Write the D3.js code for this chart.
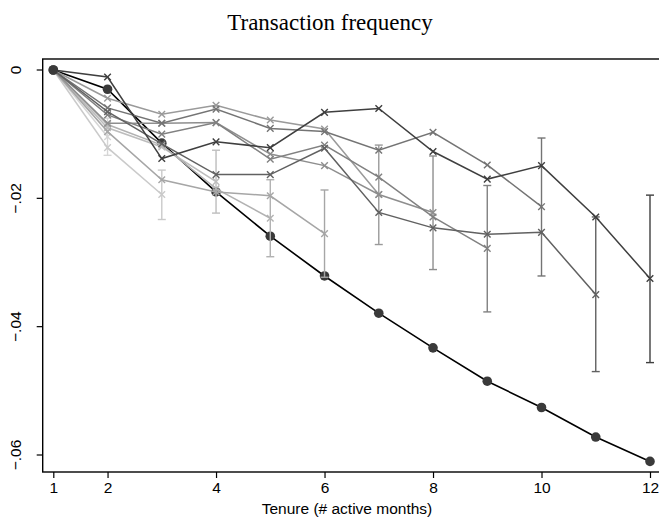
<!DOCTYPE html>
<html>
<head>
<meta charset="utf-8">
<script src="https://cdn.jsdelivr.net/npm/d3@7"></script>
<style>
  body { margin: 0; background: #fff; }
  svg { display: block; }
</style>
</head>
<body>
<svg width="659" height="521"></svg>
<script>
// months on the x axis
const months = [1, 2, 3, 4, 5, 6, 7, 8, 9, 10, 11, 12];
const xTicks = [1, 2, 4, 6, 8, 10, 12];
const yTicks = [0, -0.02, -0.04, -0.06];

// black line with circles
const overall = [0, -0.0030, -0.0114, -0.0190, -0.0259, -0.0321, -0.0379, -0.0433, -0.0485, -0.0526, -0.0572, -0.0610];

// gray cohorts, each one ends (with a CI) at its last month
const s2 = [0, -0.0104];
const s3 = [0, -0.0121, -0.0194];
const s4 = [0, -0.0090, -0.0120, -0.0174];
const s5 = [0, -0.0085, -0.0117, -0.0185, -0.0231];
const s6 = [0, -0.0096, -0.0171, -0.0190, -0.0196, -0.0255];
const s7 = [0, -0.0044, -0.0069, -0.0055, -0.0078, -0.0092, -0.0194];
const s8 = [0, -0.0083, -0.0083, -0.0082, -0.0131, -0.0149, -0.0194, -0.0222];
const s9 = [0, -0.0070, -0.0100, -0.0082, -0.0139, -0.0117, -0.0167, -0.0229, -0.0278];
const s10 = [0, -0.0059, -0.0083, -0.0061, -0.0091, -0.0096, -0.0125, -0.0097, -0.0148, -0.0213];
const s11 = [0, -0.0065, -0.0115, -0.0163, -0.0163, -0.0122, -0.0222, -0.0246, -0.0256, -0.0253, -0.0350];
const s12 = [0, -0.0011, -0.0138, -0.0112, -0.0121, -0.0066, -0.0060, -0.0127, -0.0170, -0.0149, -0.0229, -0.0325];

// CI at the last point of s2..s12
const ciLow  = [-0.0133, -0.0233, -0.0223, -0.0291, -0.0323, -0.0272, -0.0311, -0.0377, -0.0321, -0.0470, -0.0456];
const ciHigh = [-0.0075, -0.0156, -0.0125, -0.0171, -0.0187, -0.0117, -0.0134, -0.0180, -0.0106, -0.0229, -0.0195];

const grays = ["#d6d6d6", "#cacaca", "#bdbdbd", "#b2b2b2", "#a6a6a6", "#9a9a9a", "#8e8e8e", "#818181", "#747474", "#616161", "#3f3f3f"];

const cohorts = [s2, s3, s4, s5, s6, s7, s8, s9, s10, s11, s12].map((vals, i) => ({
    vals: vals,
    color: grays[i],
    lo: ciLow[i],
    hi: ciHigh[i]
}));

const svg = d3.select("svg");
const plotL = 42.7, plotT = 59, plotB = 472, plotR = 662;

const x = d3.scaleLinear().domain([1, 12]).range([53.3, 650]);
const y = d3.scaleLinear().domain([0, -0.06]).range([70, 455]);

// title
svg.append("text")
    .attr("x", 330).attr("y", 30)
    .attr("text-anchor", "middle")
    .style("font-family", "'Liberation Serif', 'DejaVu Serif', serif")
    .style("font-size", "23px")
    .text("Transaction frequency");

// frame
svg.append("rect")
    .attr("x", plotL).attr("y", plotT)
    .attr("width", plotR - plotL).attr("height", plotB - plotT)
    .attr("fill", "none").attr("stroke", "#000").attr("stroke-width", 1.4);

// axes
const yAxis = svg.append("g")
    .attr("transform", `translate(${plotL},0)`)
    .call(d3.axisLeft(y).tickValues(yTicks).tickSize(6).tickPadding(4)
        .tickFormat(d => d === 0 ? "0" : d3.format(".2f")(d).replace("0.", ".")));
yAxis.select(".domain").remove();
yAxis.selectAll("line").attr("stroke", "#000").attr("stroke-width", 1.2);
yAxis.selectAll(".tick").attr("transform", null);
yAxis.selectAll(".tick line").attr("transform", d => `translate(0,${y(d)})`);
yAxis.selectAll("text")
    .attr("x", 0).attr("y", 0).attr("dy", 0)
    .attr("text-anchor", "middle")
    .attr("transform", d => `translate(-21.5,${y(d)}) rotate(-90)`)
    .style("font-family", "'Liberation Sans', Arial, sans-serif")
    .style("font-size", "15.5px")
    .attr("fill", "#000");

const xAxis = svg.append("g")
    .attr("transform", `translate(0,${plotB})`)
    .call(d3.axisBottom(x).tickValues(xTicks).tickSize(6).tickPadding(4));
xAxis.select(".domain").remove();
xAxis.selectAll("line").attr("stroke", "#000").attr("stroke-width", 1.2);
xAxis.selectAll("text")
    .style("font-family", "'Liberation Sans', Arial, sans-serif")
    .style("font-size", "15.5px")
    .attr("fill", "#000");

svg.append("text")
    .attr("x", 347).attr("y", 514)
    .attr("text-anchor", "middle")
    .style("font-family", "'Liberation Sans', Arial, sans-serif")
    .style("font-size", "15.5px")
    .text("Tenure (# active months)");

const line = d3.line().x((d, i) => x(months[i])).y(d => y(d));

// black series
svg.append("path")
    .datum(overall)
    .attr("d", line)
    .attr("fill", "none").attr("stroke", "#000").attr("stroke-width", 1.6);
svg.selectAll("circle.overall")
    .data(overall)
    .join("circle")
    .attr("class", "overall")
    .attr("cx", (d, i) => x(months[i]))
    .attr("cy", d => y(d))
    .attr("r", 4.8)
    .attr("fill", "#3a3a3a");

// gray cohorts
const g = svg.selectAll("g.cohort")
    .data(cohorts)
    .join("g")
    .attr("class", "cohort");

g.append("path")
    .attr("d", d => line(d.vals))
    .attr("fill", "none")
    .attr("stroke", d => d.color)
    .attr("stroke-width", 1.5);

// error bar at last point
g.each(function(d) {
    const sel = d3.select(this);
    const xm = x(months[d.vals.length - 1]);
    sel.append("line")
        .attr("x1", xm).attr("x2", xm)
        .attr("y1", y(d.lo)).attr("y2", y(d.hi))
        .attr("stroke", d.color).attr("stroke-width", 1.4);
    [d.lo, d.hi].forEach(v => {
        sel.append("line")
            .attr("x1", xm - 4).attr("x2", xm + 4)
            .attr("y1", y(v)).attr("y2", y(v))
            .attr("stroke", d.color).attr("stroke-width", 1.4);
    });
    const s = 3.3;
    d.vals.forEach((v, i) => {
        if (i === 0) return;
        const cx = x(months[i]), cy = y(v);
        sel.append("path")
            .attr("d", `M${cx - s},${cy - s}L${cx + s},${cy + s}M${cx - s},${cy + s}L${cx + s},${cy - s}`)
            .attr("stroke", d.color).attr("stroke-width", 1.4);
    });
});

// the first point, shared by every series
svg.append("circle")
    .attr("cx", x(1)).attr("cy", y(0))
    .attr("r", 4.8).attr("fill", "#3a3a3a");
</script>
</body>
</html>
